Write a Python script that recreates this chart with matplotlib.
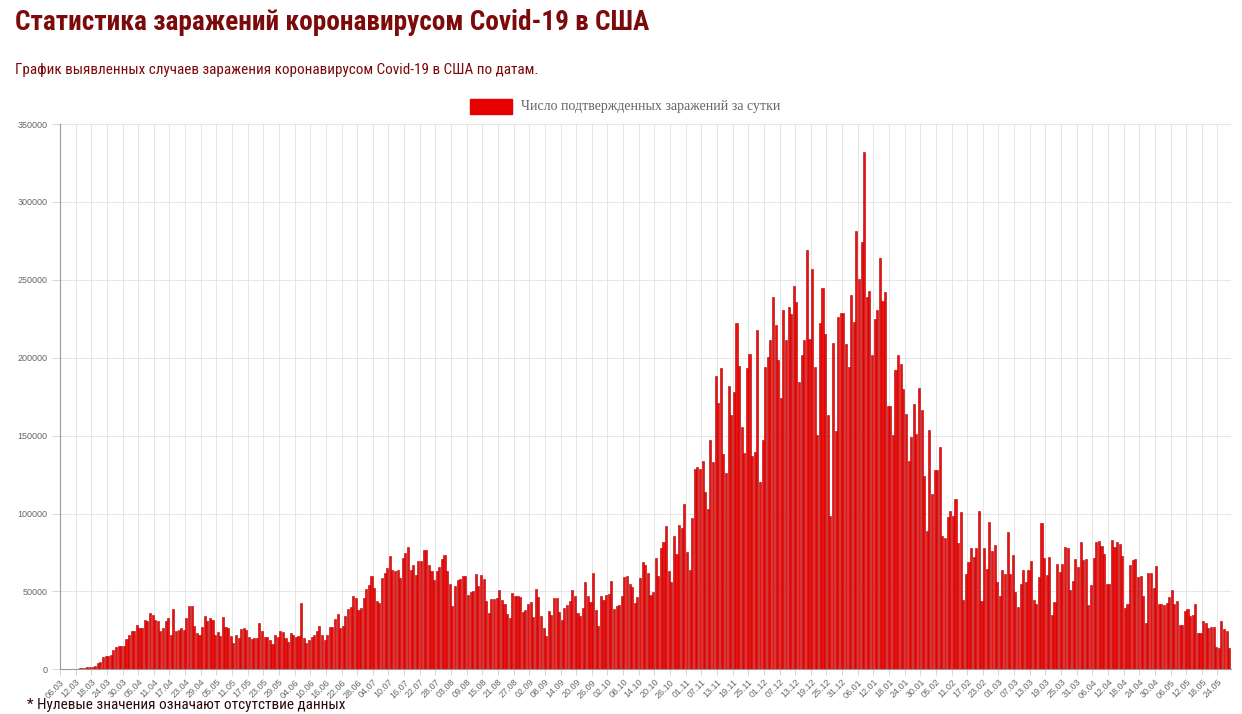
import numpy as np
import pandas as pd
import matplotlib
matplotlib.use("Agg")
import matplotlib.pyplot as plt
from matplotlib.patches import Rectangle
from matplotlib import font_manager

# daily confirmed cases, USA, starting 06.03.2020
start_date = "2020-03-06"

cases_mar_may_2020 = [
    80, 100, 120, 150, 220, 350, 420, 550, 700, 800, 1200,
    1500, 1200, 2100, 4300, 4600, 8200, 8400, 8600, 9400, 12400,
    14600, 15000, 15000, 15000, 19700, 22100, 24900, 24900, 28300, 26600,
    26600, 31800, 30700, 36000, 34800, 31800, 31300, 24700, 26600, 30700,
    32800, 21700, 38600, 24900, 25100, 26400, 25300, 33000, 40800, 40800,
    27500, 23200, 22300, 27000, 33900, 30700, 32800, 31800, 22100, 23800,
    21500, 33500, 27300, 26600,
]
cases_may_jul_2020 = [
    21500, 16700, 22100, 20000, 25800, 26600, 25300, 20600, 19300, 20000,
    20400, 29600, 24900, 20600, 20600, 18900, 16100, 22100, 21000, 24900,
    23800, 20000, 17800, 23600, 22100, 21000, 21500, 42500, 20400, 17200,
    18900, 20600, 21900, 24900, 27900, 21700, 18500, 22100, 27000, 27000,
    32200, 35600, 26400, 27900, 34300, 38800, 39900, 47200, 45700, 37800,
    39300, 45700, 51700, 54300, 60100, 52100, 43600, 42500, 58600, 61800,
    65000, 73000, 64000, 62900, 64000, 58600, 71500, 74700, 78500, 64000,
    67200, 60800, 69400,
]
cases_jul_oct_2020 = [
    69300, 76800, 76800, 67200, 62900, 57500, 62900, 65700, 71000, 73600,
    62900, 54900, 40800, 53200, 57100, 58200, 60100, 59700, 47900, 49400,
    50000, 61400, 53200, 60700, 58200, 43600, 36100, 45100, 45100, 45700,
    51100, 44600, 41800, 35600, 32800, 48900, 46800, 47200, 46100, 36700,
    38200, 42100, 42900, 33500, 51700, 46100, 33900, 26400, 21500, 37600,
    35000, 45500, 45500, 36700, 31800, 39300, 41400, 44000, 50600, 47200,
    36100, 34300, 39500, 55800, 47000, 42900, 61800, 37800, 27900, 47200,
    44600, 47900, 48500,
]
cases_oct_nov_2020 = [
    56400, 38600, 40800, 41400, 47200, 59200, 60100, 54900, 52800, 42500,
    46400, 58600, 69100, 67200, 61800, 47900, 49400, 71200, 60100, 77900,
    81500, 91800, 62900, 56000, 85400, 74300, 92500, 90800, 105800, 75300,
    64000, 97200, 128300, 129800, 128800, 133700, 114000, 103000, 147200, 133300,
    188000, 170800, 193100, 138400, 126200, 182000, 163100, 177700, 222300, 194900,
    155800, 139100,
]
cases_nov_jan = [
    193200, 202200, 137200, 139700, 217900, 120100, 147200, 194300, 200300, 211400,
    238800, 220800, 198600, 174000, 230700, 211400, 232400, 228100, 246300, 235600,
    184300, 201800, 211400, 269200, 212100, 257200, 193900, 150400, 222100, 244600,
    215300, 163300, 98400, 209300, 153200, 226000, 228600, 228600, 208900, 194300,
    240300, 222800, 281400, 250400, 274300, 331800,
]
cases_jan_feb_2021 = [
    239200, 243000, 201800, 225100, 230400, 263900, 236400, 241900, 169200, 168700,
    150500, 192300, 201800, 196100, 180200, 163700, 133500, 148900, 170300, 151100,
    180600, 166500, 124000, 88800, 153800, 112600, 128000, 128000, 142800, 85500,
    84400, 98000,
]
cases_feb_apr_2021 = [
    101500, 98700, 109000, 81100, 101100, 44200, 61200, 68700, 77900, 71900,
    77900, 101500, 44000, 77900, 64400, 94400, 76200, 80000, 55800, 46800,
    63500, 61400, 88000, 61400, 73600, 49400, 39900, 54900, 63500, 55800,
    64000, 69300, 44600, 41800, 59000, 93600, 71500, 60700, 72100, 35000,
    42900, 67800, 62200, 67800, 78500, 77900, 50600, 56400, 70800, 65500,
    82000, 70000,
]
cases_apr_may_2021 = [
    70800, 41400, 54300, 71500, 81500, 82200, 79400, 74300, 54900, 54900,
    83300, 78500, 81500, 80500, 73000, 39300, 41800, 67200, 70400, 70800,
    59200, 60100, 46800, 29600, 61800, 61800, 52100, 66500, 42100, 41800,
    41400, 42500, 46400, 50600, 42100, 43600, 28500, 28500, 37600, 38600,
    34300, 34800, 42100, 23600, 23200, 31100, 29600, 26800, 27000, 27000,
    14200, 13900, 31300, 25800, 24700, 13500,
]

title = "Статистика заражений коронавирусом Covid-19 в США"
subtitle = "График выявленных случаев заражения коронавирусом Covid-19 в США по датам."
legend_label = "Число подтвержденных заражений за сутки"
footnote = "* Нулевые значения означают отсутствие данных"

cases = np.array(cases_mar_may_2020 + cases_may_jul_2020 + cases_jul_oct_2020
                 + cases_oct_nov_2020 + cases_nov_jan + cases_jan_feb_2021
                 + cases_feb_apr_2021 + cases_apr_may_2021)
dates = pd.date_range(start_date, periods=len(cases), freq="D")
x = np.arange(len(cases))

# fonts
available = {f.name for f in font_manager.fontManager.ttflist}


def pick(*names):
    for n in names:
        if n in available:
            return n
    return "DejaVu Sans"


narrow = pick("Liberation Sans Narrow", "Roboto Condensed", "DejaVu Sans Condensed",
              "Open Sans Condensed", "Roboto")
sans = pick("Liberation Sans", "Arial", "DejaVu Sans")
serif = pick("Liberation Serif", "DejaVu Serif")

W, H = 1242, 714
fig = plt.figure(figsize=(W / 100, H / 100), dpi=100)
fig.patch.set_facecolor("white")

# plot area in pixels: x 60..1230.5, y 124..669.3
ax = fig.add_axes([60 / W, 1 - 669.3 / H, 1170.5 / W, (669.3 - 124) / H])

ax.bar(x, cases, width=0.8, color="#f00f0f", edgecolor="#b00000", linewidth=0.4, zorder=3)

ax.set_xlim(-0.5, len(cases) - 0.5)
ax.set_ylim(0, 350000)
ax.set_yticks(np.arange(0, 350001, 50000))
ax.set_yticklabels([str(v) for v in range(0, 350001, 50000)])

ax.set_xticks(x[::6] - 0.5)
ax.set_xticklabels(dates[::6].strftime("%d.%m"), rotation=45, ha="right", va="top",
                   rotation_mode="anchor")

ax.grid(True, color="#e2e2e2", linewidth=0.6, zorder=0)
ax.set_axisbelow(True)
for s in ["top", "right"]:
    ax.spines[s].set_visible(False)
for s in ["left", "bottom"]:
    ax.spines[s].set_color("#9a9a9a")
    ax.spines[s].set_linewidth(0.8)

ax.tick_params(axis="y", length=6, width=0.6, color="#cfcfcf", pad=3,
               labelsize=6.5, labelcolor="#666666")
ax.tick_params(axis="x", length=4, width=0.6, color="#cfcfcf", pad=2,
               labelsize=6.5, labelcolor="#666666")
for lab in ax.get_xticklabels() + ax.get_yticklabels():
    lab.set_family(sans)

# titles
t1 = fig.text(15 / W, 1 - 30 / H, title, fontsize=22, fontweight="bold",
              family=[narrow, "DejaVu Sans"], color="#7d0a0a", va="baseline", ha="left")
t2 = fig.text(15 / W, 1 - 74 / H, subtitle, fontsize=11.5,
              family=[narrow, "DejaVu Sans"], color="#7d0a0a", va="baseline", ha="left")

# legend
fig.patches.append(Rectangle((470 / W, 1 - 114 / H), 42 / W, 15 / H,
                             transform=fig.transFigure, facecolor="#e60000",
                             edgecolor="#e60000", figure=fig))
t3 = fig.text(521 / W, 1 - 106.5 / H, legend_label, fontsize=9.5, family=serif,
              color="#666666", va="center", ha="left")

# footnote at the very bottom edge
fig.text(27 / W, 1.5 / H, footnote, fontsize=11, family=[narrow, "DejaVu Sans"],
         color="#2a0a0a", va="bottom", ha="left")

# fit text widths to the reference
fig.canvas.draw()
renderer = fig.canvas.get_renderer()
for t, target in [(t1, 633), (t2, 522), (t3, 261)]:
    w = t.get_window_extent(renderer).width
    t.set_fontsize(t.get_fontsize() * target / w)

fig.savefig("out.png", dpi=100)
